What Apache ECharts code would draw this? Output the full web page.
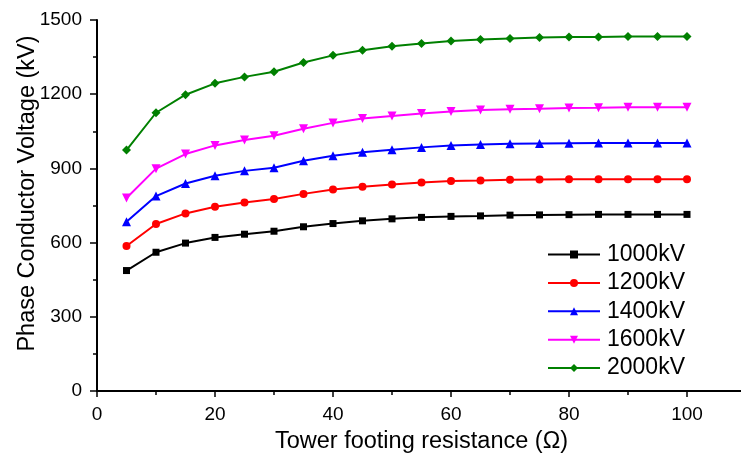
<!DOCTYPE html>
<html>
<head>
<meta charset="utf-8">
<script src="https://cdn.jsdelivr.net/npm/echarts@6/dist/echarts.min.js"></script>
<style>
  html, body { margin: 0; padding: 0; background: #fff; }
  #chart { width: 741px; height: 459px; }
</style>
</head>
<body>
<div id="chart"></div>
<script>
// Tower footing resistance (Ω)
const resistance = [5, 10, 15, 20, 25, 30, 35, 40, 45, 50, 55, 60, 65, 70, 75, 80, 85, 90, 95, 100];

// Phase conductor voltage (kV) for each operating voltage level
const v1000 = [487, 561, 598, 621, 634, 646, 664, 677, 688, 696, 702, 706, 708, 711, 712, 713, 714, 714, 714, 714];
const v1200 = [586, 675, 718, 745, 762, 776, 797, 815, 826, 835, 843, 849, 851, 854, 855, 856, 856, 856, 856, 856];
const v1400 = [684, 788, 839, 870, 890, 903, 931, 951, 965, 975, 985, 993, 997, 1000, 1001, 1002, 1003, 1003, 1003, 1003];
const v1600 = [780, 899, 958, 993, 1015, 1032, 1060, 1084, 1102, 1112, 1122, 1130, 1136, 1139, 1141, 1144, 1145, 1147, 1147, 1147];
const v2000 = [974, 1125, 1198, 1244, 1270, 1291, 1328, 1357, 1378, 1394, 1405, 1415, 1421, 1425, 1429, 1431, 1431, 1433, 1433, 1433];

const seriesNames = ['1000kV', '1200kV', '1400kV', '1600kV', '2000kV'];
const seriesValues = [v1000, v1200, v1400, v1600, v2000];
const seriesColors = ['#000000', '#ff0000', '#0000ff', '#ff00ff', '#008000'];
const seriesSymbols = ['rect', 'circle', 'triangle', 'path://M0,0L10,0L5,9Z', 'diamond'];
const symbolSizes = [7, 8, 9, 9, 9];

const FONT = '"Liberation Sans", Arial, sans-serif';

const chart = echarts.init(document.getElementById('chart'), null, { renderer: 'canvas' });

chart.setOption({
  animation: false,
  backgroundColor: '#ffffff',
  grid: { left: 97, top: 20, right: -5, bottom: 68, containLabel: false, outerBoundsMode: 'none' },
  legend: {
    orient: 'vertical',
    left: 547,
    top: 243,
    padding: 0,
    itemWidth: 52,
    itemHeight: 10,
    itemGap: 5.4,
    textStyle: { fontFamily: FONT, fontSize: 23, color: '#000', lineHeight: 22, padding: [0, 0, 0, 2] },
    data: seriesNames
  },
  xAxis: {
    type: 'value',
    min: 0,
    max: 110,
    interval: 20,
    name: 'Tower footing resistance (Ω)',
    nameLocation: 'middle',
    nameMoveOverlap: false,
    nameGap: 39,
    nameTextStyle: { fontFamily: FONT, fontSize: 23.5, color: '#000' },
    axisLine: { lineStyle: { color: '#000', width: 2 } },
    axisTick: { inside: false, length: 6, lineStyle: { color: '#000', width: 1.5 } },
    minorTick: { show: true, splitNumber: 2, length: 4, lineStyle: { color: '#000', width: 1.5 } },
    axisLabel: { fontFamily: FONT, fontSize: 19, color: '#000', margin: 14, showMaxLabel: false },
    splitLine: { show: false }
  },
  yAxis: {
    type: 'value',
    min: 0,
    max: 1500,
    interval: 300,
    name: 'Phase Conductor Voltage (kV)',
    nameLocation: 'middle',
    nameMoveOverlap: false,
    nameGap: 57,
    nameTextStyle: { fontFamily: FONT, fontSize: 23.5, color: '#000', padding: [0, 0, 0, 24] },
    axisLine: { show: true, lineStyle: { color: '#000', width: 2 } },
    axisTick: { show: true, inside: false, length: 7, lineStyle: { color: '#000', width: 1.5 } },
    minorTick: { show: true, splitNumber: 2, length: 4, lineStyle: { color: '#000', width: 1.5 } },
    axisLabel: { fontFamily: FONT, fontSize: 19, color: '#000', margin: 15, formatter: (v) => String(v) },
    splitLine: { show: false }
  },
  series: seriesNames.map((name, i) => ({
    name: name,
    type: 'line',
    data: resistance.map((r, j) => [r, seriesValues[i][j]]),
    symbol: seriesSymbols[i],
    symbolSize: symbolSizes[i],
    showAllSymbol: true,
    itemStyle: { color: seriesColors[i] },
    lineStyle: { color: seriesColors[i], width: 2 }
  }))
});
</script>
</body>
</html>
